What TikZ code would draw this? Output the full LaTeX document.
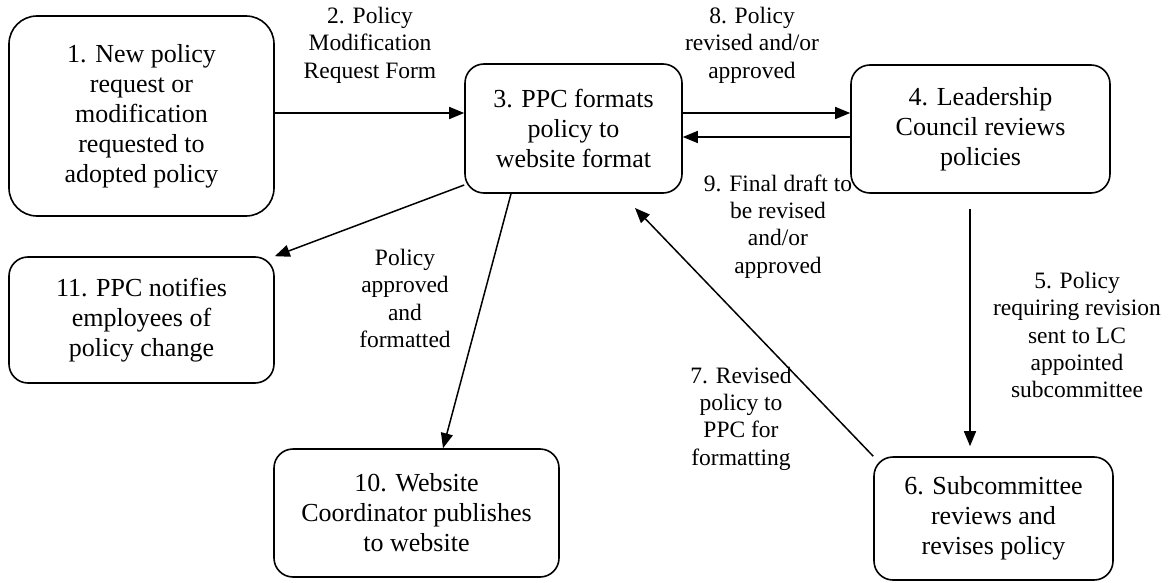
\documentclass[tikz,border=0pt]{standalone}
\usepackage{fontspec}
\setmainfont{Liberation Serif}
\usetikzlibrary{arrows.meta}
\begin{document}
\begin{tikzpicture}[x=1pt,y=-1pt,
  pbox/.style={draw, line width=1.6pt, rounded corners=#1, align=center, inner sep=0pt,
    font=\fontsize{26}{30}\selectfont},
  lbl/.style={align=center, inner sep=0pt, font=\fontsize{23.5}{27.4}\selectfont},
  arr/.style={line width=1.5pt, -{Triangle[length=15pt,width=12pt]}}]
\useasboundingbox (0,0) rectangle (1175,583);
% boxes
\node[pbox=28pt, minimum width=265pt, minimum height=200pt] (n1) at (141.5,116)
  {1. New policy\\request or\\modification\\requested to\\adopted policy};
\node[pbox=19pt, minimum width=217pt, minimum height=129pt] (n3) at (573.5,128.5)
  {3. PPC formats\\policy to\\website format};
\node[pbox=19pt, minimum width=259pt, minimum height=128pt] (n4) at (980.5,129)
  {4. Leadership\\Council reviews\\policies};
\node[pbox=19pt, minimum width=265pt, minimum height=126pt] (n11) at (141.5,320)
  {11. PPC notifies\\employees of\\policy change};
\node[pbox=19pt, minimum width=285pt, minimum height=128pt] (n10) at (416.5,513)
  {10. Website\\Coordinator publishes\\to website};
\node[pbox=19pt, minimum width=239pt, minimum height=123pt] (n6) at (993.5,518.5)
  {6. Subcommittee\\reviews and\\revises policy};
% labels
\node[lbl] (l2) at (370,45) {2. Policy\\Modification\\Request Form};
\node[lbl] (l8) at (752,45) {8. Policy\\revised and/or\\approved};
\node[lbl] (l9) at (778,226.5) {9. Final draft to\\be revised\\and/or\\approved};
\node[lbl] (l5) at (1077,335) {5. Policy\\requiring revision\\sent to LC\\appointed\\subcommittee};
\node[lbl] (l7) at (741,418.5) {7. Revised\\policy to\\PPC for\\formatting};
\node[lbl] (lp) at (405,298.5) {Policy\\approved\\and\\formatted};
% connectors
\coordinate (c7) at (635,208);
\draw[arr] (n1.east |- 0,113) -- (n3.west |- 0,113);
\draw[arr] (n3.east |- 0,113) -- (n4.west |- 0,113);
\draw[arr] (n4.west |- 0,137) -- (n3.east |- 0,137);
\draw[arr, shorten <=15pt, shorten >=10pt] (n4.south -| 970,0) -- (n6.north -| 970,0);
\draw[arr] (n6.north west) -- (c7);
\draw[arr] (n3.west |- 0,185) -- (n11.north east);
\draw[arr] (n3.south -| 511,0) -- (n10.north -| 443,0);
\end{tikzpicture}
\end{document}
